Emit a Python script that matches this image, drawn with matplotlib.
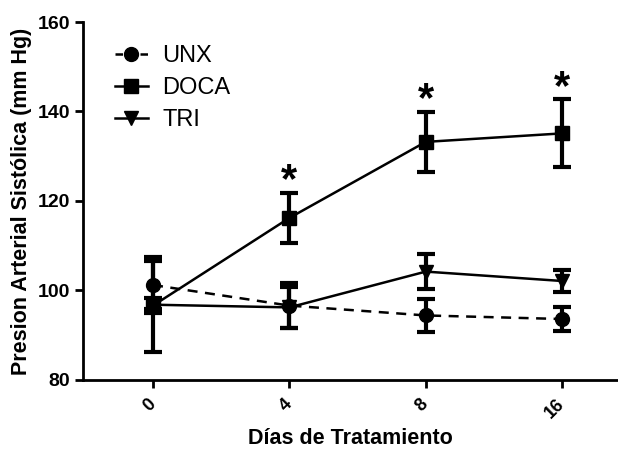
import numpy as np
import matplotlib.pyplot as plt
from matplotlib.lines import Line2D

plt.rcParams['font.family'] = ['Liberation Sans', 'DejaVu Sans']

# Data
dias = ['0', '4', '8', '16']
unx = [101.2, 96.6, 94.4, 93.6]
unx_err = [5.4, 5.1, 3.6, 2.7]
doca = [96.6, 116.2, 133.2, 135.1]
doca_err = [1.6, 5.6, 6.7, 7.6]
tri = [96.8, 96.2, 104.2, 102.1]
tri_err = [10.6, 4.5, 4.0, 2.4]
asteriscos = [1, 2, 3]  # índices con diferencia significativa (DOCA)

x = np.arange(len(dias))

fig = plt.figure(figsize=(6.18, 4.49), dpi=100)
ax = fig.add_axes([0.134, 0.154, 0.866, 0.797])

estilo = dict(color='black', lw=1.8, elinewidth=3, capsize=6.5, capthick=3,
              markersize=10)
ax.errorbar(x, unx, yerr=unx_err, marker='o', ls='--', dashes=(4, 3), **estilo)
ax.errorbar(x, doca, yerr=doca_err, marker='s', ls='-', **estilo)
ax.errorbar(x, tri, yerr=tri_err, marker='v', ls='-', **estilo)

# Asteriscos de significancia
for i in asteriscos:
    ax.text(x[i], doca[i] + doca_err[i] + 2.6, '*', ha='center', va='center',
            fontsize=30, fontweight='bold')

ax.set_xlim(-0.515, 3.41)
ax.set_ylim(80, 160)
ax.set_yticks([80, 100, 120, 140, 160])
ax.set_xticks(x)
ax.set_xticklabels(dias, rotation=45, ha='right', va='center',
                   rotation_mode='anchor', fontsize=13, fontweight='bold')
for lab in ax.get_yticklabels():
    lab.set_fontsize(14)
    lab.set_fontweight('bold')

ax.spines['top'].set_visible(False)
ax.spines['right'].set_visible(False)
ax.spines['left'].set_linewidth(2)
ax.spines['bottom'].set_linewidth(2)
ax.tick_params(width=2, length=6, pad=3)
ax.tick_params(axis='x', pad=10)

ax.set_xlabel('Días de Tratamiento', fontsize=15.5, fontweight='bold',
              labelpad=4)
ax.set_ylabel('Presion Arterial Sistólica (mm Hg)', fontsize=15.5,
              fontweight='bold', labelpad=4)

handles = [
    Line2D([], [], color='black', lw=1.8, ls='--', dashes=(3, 2), marker='o',
           markersize=10),
    Line2D([], [], color='black', lw=1.8, marker='s', markersize=10),
    Line2D([], [], color='black', lw=1.8, marker='v', markersize=10),
]
ax.legend(handles, ['UNX', 'DOCA', 'TRI'], loc='upper left', frameon=False,
          prop={'size': 17}, bbox_to_anchor=(0.06, 0.935), borderaxespad=0,
          borderpad=0, handlelength=1.4, handletextpad=0.6, labelspacing=0.42)

fig.savefig('out.png', dpi=100)
plt.close()
